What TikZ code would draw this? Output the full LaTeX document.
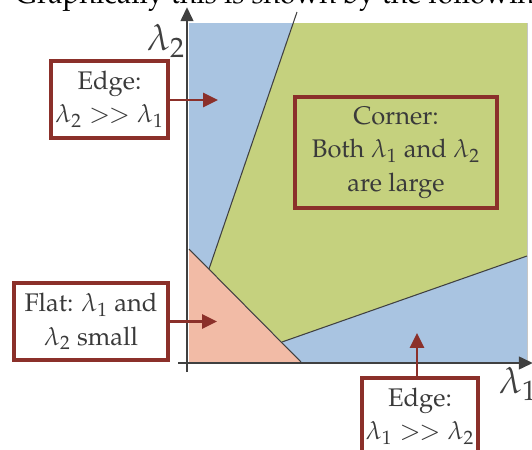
\documentclass[tikz,border=0pt]{standalone}
\usepackage[T1]{fontenc}
\usepackage{mathpazo}
\usepackage{xcolor}
\usetikzlibrary{arrows.meta,positioning,calc}

\definecolor{edgeblue}{HTML}{A9C4E1}
\definecolor{cornergreen}{HTML}{C5D17E}
\definecolor{flatpink}{HTML}{F2BBA6}
\definecolor{boxred}{HTML}{8B302A}
\definecolor{axisgray}{HTML}{404040}
\definecolor{textgray}{HTML}{3A3A3A}

\begin{document}
\begin{tikzpicture}[
    x=0.02cm,y=-0.02cm,
    font=\fontsize{14.5}{19}\selectfont,
    axis/.style={line width=1.7pt,draw=axisgray,-{Triangle[length=8pt,width=7pt]}},
    split/.style={draw=axisgray,line width=0.6pt},
    labelbox/.style={draw=boxred,line width=1.9pt,align=center,text=textgray,inner sep=1pt},
    pointer/.style={draw=boxred,line width=1.6pt,-{Triangle[length=8.5pt,width=8pt]}},
]
    \useasboundingbox (0,0) rectangle (532,450);

    % text line cut off at the top
    \node[anchor=base west,inner sep=0pt,text=black,font=\fontsize{16.2}{19}\selectfont] (caption) at (15,3.5)
        {Graphically this is shown by the following};

    % regions of the (lambda1, lambda2) plane
    \fill[edgeblue] (189,23) -- (293.5,23) -- (209,269) -- (189,249) -- cycle;
    \fill[cornergreen] (293.5,23) -- (527,23) -- (527,256) -- (282,342) -- (209,269) -- cycle;
    \fill[edgeblue] (282,342) -- (527,256) -- (527,362) -- (301,362) -- cycle;
    \fill[flatpink] (189,249) -- (301,362) -- (189,362) -- cycle;
    \draw[gray!45,line width=0.4pt] (527,23) -- (527,362);

    \draw[split] (297,12) -- (209,269);
    \draw[split] (189,249) -- (301,362);
    \draw[split] (282,342) -- (527,256);

    % axes
    \draw[axis] (187,372) -- (187,7);
    \draw[axis] (178,363) -- (533,363);
    \node[text=axisgray,font=\fontsize{21}{24}\selectfont] (l2) at (166,41) {$\lambda_2$};
    \node[text=axisgray,font=\fontsize{21}{24}\selectfont] (l1) at (518,384) {$\lambda_1$};

    % labels
    \node[labelbox,fill=white,minimum width=2.34cm,minimum height=1.54cm] (edgeup) at (109.5,99.5)
        {Edge:\\$\lambda_2 \mathrel{>\mkern-1mu>} \lambda_1$};
    \node[labelbox,minimum width=4.04cm,minimum height=2.22cm] (corner) at (396,152.5)
        {Corner:\\Both $\lambda_1$ and $\lambda_2$\\are large};
    \node[labelbox,fill=white,minimum width=3.08cm,minimum height=1.54cm] (flat) at (91,321.5)
        {Flat: $\lambda_1$ and\\$\lambda_2$ small};
    \node[labelbox,fill=white,minimum width=2.32cm,minimum height=1.54cm] (edgeright) at (420,416.5)
        {Edge:\\$\lambda_1 \mathrel{>\mkern-1mu>} \lambda_2$};

    \coordinate (edgeupend) at (218,100);
    \coordinate (flatend) at (217,321.5);
    \coordinate (edgerightend) at (417,333);
    \draw[pointer] (edgeup.east |- edgeupend) -- (edgeupend);
    \draw[pointer] (flat.east |- flatend) -- (flatend);
    \draw[pointer] (edgerightend |- edgeright.north) -- (edgerightend);
\end{tikzpicture}
\end{document}
